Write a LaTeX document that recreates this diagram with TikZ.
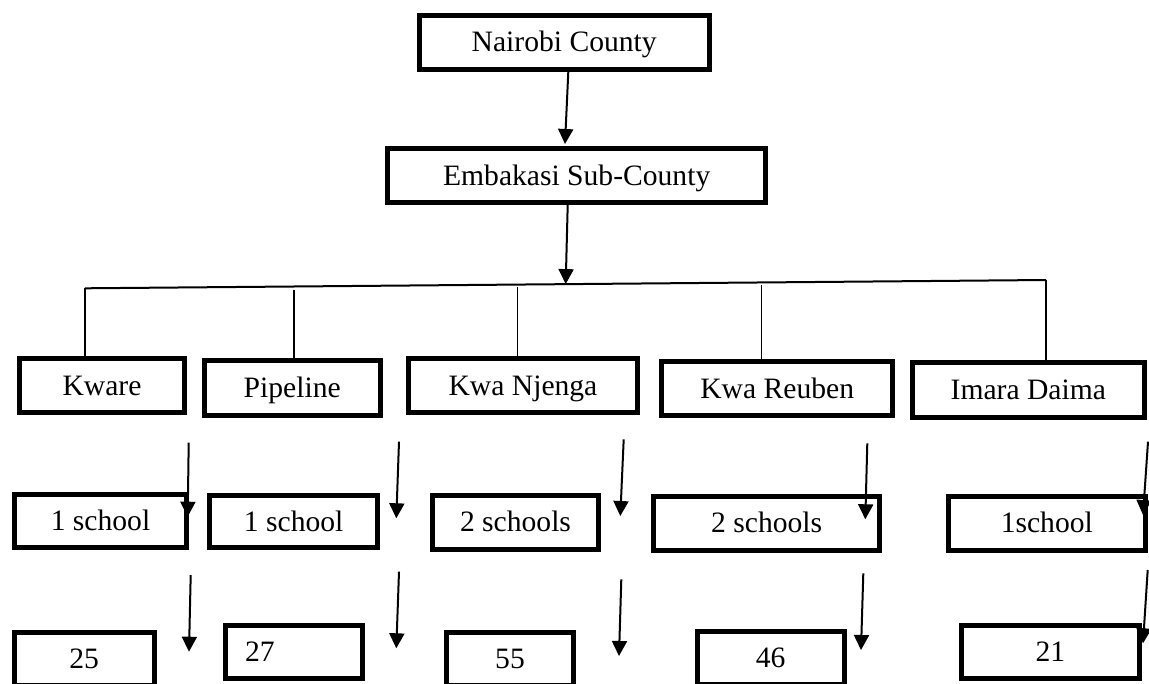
\documentclass[tikz,border=0pt]{standalone}
\usepackage{fontspec}
\setmainfont{Liberation Serif}
\usetikzlibrary{arrows.meta,calc}
\begin{document}
\begin{tikzpicture}[x=1pt,y=-1pt,
  box/.style={draw, line width=5pt, inner sep=0pt, minimum height=54pt,
    text height=21pt, text depth=2pt, font=\fontsize{29.6pt}{35pt}\selectfont},
  arr/.style={line width=2pt, -{Triangle[width=15pt,length=15pt]}},
  conn/.style={line width=1.6pt},
  hline/.style={line width=2pt}]
\useasboundingbox (0,0) rectangle (1149,683);
% level 1-2
\node[box, minimum width=290pt, minimum height=54pt] (nai) at (564.2,42.2) {Nairobi County};
\node[box, minimum width=378.3pt, minimum height=54pt] (emb) at (576.7,175.5) {Embakasi Sub-County};
% level 3
\node[box, minimum width=165.6pt, minimum height=54pt] (kware)  at (102,385.5)  {Kware};
\node[box, minimum width=176pt, minimum height=55pt] (pipe)   at (292.2,388.3) {Pipeline};
\node[box, minimum width=228.4pt, minimum height=54pt] (njenga) at (523,385.5)  {Kwa Njenga};
\node[box, minimum width=231.3pt, minimum height=54pt] (reuben) at (777.2,388.8) {Kwa Reuben};
\node[box, minimum width=231.7pt, minimum height=55pt] (imara)  at (1028.3,390) {Imara Daima};
% level 4
\node[box, minimum width=172.6pt, minimum height=53.3pt] (s1) at (100.5,520.8) {1 school};
\node[box, minimum width=167.7pt, minimum height=51.7pt] (s2) at (293.7,521.7) {1 school};
\node[box, minimum width=166.6pt, minimum height=54pt] (s3) at (515.5,522.2) {2 schools};
\node[box, minimum width=225.7pt, minimum height=53.7pt] (s4) at (766.7,523.3) {2 schools};
\node[box, minimum width=196.7pt, minimum height=53.7pt] (s5) at (1046.8,523.3) {1school};
% level 5
\node[box, minimum width=140pt, minimum height=53pt] (n25) at (84.2,659) {25};
\node[box, minimum width=137.3pt, minimum height=53pt, text width=97.3pt, align=left] (n27) at (293.8,651.7) {27};
\node[box, minimum width=127.6pt, minimum height=53pt] (n55) at (510,659) {55};
\node[box, minimum width=147pt, minimum height=53pt] (n46) at (770.7,658) {46};
\node[box, minimum width=178.3pt, minimum height=53pt, text width=150pt, align=center] (n21) at (1050.3,651.7) {21\hspace*{17pt}};
% top arrows
\coordinate (hm) at (565.7,284.1);
\draw[arr] ($(nai.south)+(4.1,0)$) -- ($(emb.north)+(-11.7,-2)$);
\draw[arr] ($(emb.south)+(-9,0)$) -- (hm);
% branching line
\coordinate (hl) at (85,288.3);
\coordinate (hr) at (1046,280);
\draw[hline] (hl) -- (hr);
\coordinate (d2) at (294,290);
\coordinate (d3) at (517.3,287.3);
\coordinate (d4) at (761.3,285);
\draw[conn] (hl) -- (hl |- kware.north);
\draw[conn] (d2) -- (d2 |- pipe.north);
\draw[conn] (d3) -- (d3 |- njenga.north);
\draw[conn] (d4) -- (d4 |- reuben.north);
\draw[conn] (hr) -- (hr |- imara.north);
% arrows level 3 -> 4
\coordinate (a1s) at (188.7,442.7);  \coordinate (a1e) at (187.7,516.7);
\coordinate (a2s) at (399,441.7);    \coordinate (a2e) at (396.3,518.3);
\coordinate (a3s) at (623.7,439.3);  \coordinate (a3e) at (620.3,516);
\coordinate (a4s) at (867.3,443.3);  \coordinate (a4e) at (865.3,519.3);
\coordinate (a5s) at (1148,441.7);   \coordinate (a5e) at (1143,515);
\draw[arr] (a1s) -- (a1e);
\draw[arr] (a2s) -- (a2e);
\draw[arr] (a3s) -- (a3e);
\draw[arr] (a4s) -- (a4e);
\draw[arr] (a5s) -- (a5e);
% arrows level 4 -> 5
\coordinate (b1s) at (190.7,575);    \coordinate (b1e) at (189,651.7);
\coordinate (b2s) at (399,571.7);    \coordinate (b2e) at (396.3,648.3);
\coordinate (b3s) at (621.3,579.3);  \coordinate (b3e) at (619,656);
\coordinate (b4s) at (863.3,573.3);  \coordinate (b4e) at (861,650);
\coordinate (b5s) at (1147.7,570);   \coordinate (b5e) at (1143,643.3);
\draw[arr] (b1s) -- (b1e);
\draw[arr] (b2s) -- (b2e);
\draw[arr] (b3s) -- (b3e);
\draw[arr] (b4s) -- (b4e);
\draw[arr] (b5s) -- (b5e);
\end{tikzpicture}
\end{document}
